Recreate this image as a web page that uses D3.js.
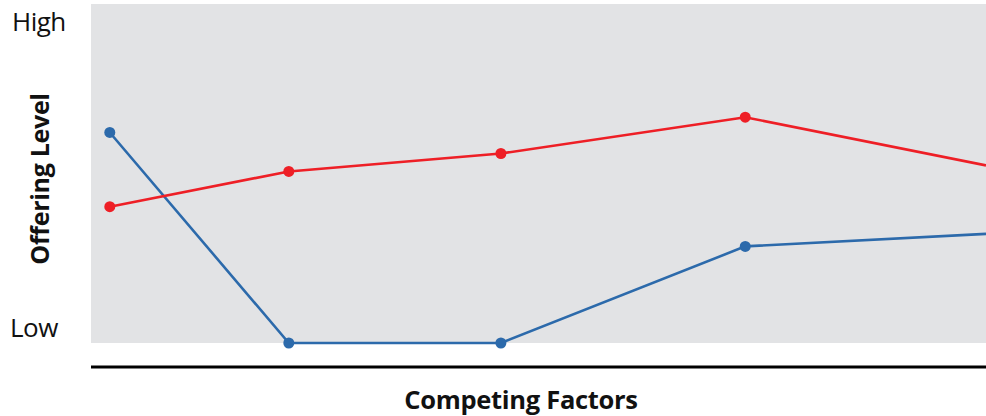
<!DOCTYPE html>
<html>
<head>
<meta charset="utf-8">
<script src="https://cdn.jsdelivr.net/npm/d3@7"></script>
<style>
  body { margin: 0; background: #fff; }
  text { font-family: "Open Sans", "Noto Sans", sans-serif; fill: #111; }
</style>
</head>
<body>
<div id="vis"></div>
<script>
var width = 986,
  height = 416;

// Data: position of each competing factor along the axis (0-100), offering level (0 = low, 100 = high)
var factorPos = [ 2.1, 22.1, 45.8, 73.1, 100 ];
var blueLevels = [ 62.1, 0, 0, 28.5, 32.2 ];
var redLevels = [ 40.2, 50.6, 55.9, 66.6, 52.4 ];
var levelLabels = [ 'Low', 'High' ];

var plot = { left: 91, right: 986, top: 4, bottom: 343 };

var x = d3.scaleLinear()
  .domain( [ 0, 100 ] )
  .range( [ plot.left, plot.right ] );

var y = d3.scaleLinear()
  .domain( [ 0, 100 ] )
  .range( [ plot.bottom, plot.top ] );

var svg = d3.select( '#vis' ).append( 'svg' )
  .attr( 'width', width )
  .attr( 'height', height );

// background
svg.append( 'rect' )
  .attr( 'x', plot.left )
  .attr( 'y', plot.top )
  .attr( 'width', plot.right - plot.left )
  .attr( 'height', plot.bottom - plot.top )
  .attr( 'fill', '#e2e3e5' );

// baseline
svg.append( 'line' )
  .attr( 'x1', plot.left )
  .attr( 'x2', plot.right )
  .attr( 'y1', 367 )
  .attr( 'y2', 367 )
  .attr( 'stroke', '#000' )
  .attr( 'stroke-width', 3 );

// level labels
svg.append( 'text' )
  .attr( 'x', 12 )
  .attr( 'y', 31 )
  .style( 'font-size', '26px' )
  .style( 'letter-spacing', '-0.5px' )
  .text( levelLabels[ 1 ] );

svg.append( 'text' )
  .attr( 'x', 10 )
  .attr( 'y', 337 )
  .style( 'font-size', '26px' )
  .style( 'letter-spacing', '-0.5px' )
  .text( levelLabels[ 0 ] );

// axis titles
svg.append( 'text' )
  .attr( 'transform', 'translate(49,' + 179 + ') rotate(-90)' )
  .attr( 'text-anchor', 'middle' )
  .style( 'font-size', '25px' )
  .style( 'font-weight', 'bold' )
  .style( 'letter-spacing', '-0.3px' )
  .text( 'Offering Level' );

svg.append( 'text' )
  .attr( 'x', 521 )
  .attr( 'y', 409 )
  .attr( 'text-anchor', 'middle' )
  .style( 'font-size', '25.5px' )
  .style( 'font-weight', 'bold' )
  .style( 'letter-spacing', '-0.3px' )
  .text( 'Competing Factors' );

var line = d3.line()
  .x( ( d, i ) => x( factorPos[ i ] ) )
  .y( d => y( d ) );

var series = [
  { values: blueLevels, color: '#2c6aab' },
  { values: redLevels, color: '#ee1f26' }
];

series.forEach( s => {

  svg.append( 'path' )
    .datum( s.values )
      .attr( 'fill', 'none' )
      .attr( 'stroke', s.color )
      .attr( 'stroke-width', 2.6 )
      .attr( 'd', line );

  // last point falls on the plot edge, no marker there
  svg.selectAll( null )
    .data( s.values.slice( 0, -1 ) )
    .enter().append( 'circle' )
      .attr( 'cx', ( d, i ) => x( factorPos[ i ] ) )
      .attr( 'cy', d => y( d ) )
      .attr( 'r', 5.5 )
      .attr( 'fill', s.color );

} );
</script>
</body>
</html>
